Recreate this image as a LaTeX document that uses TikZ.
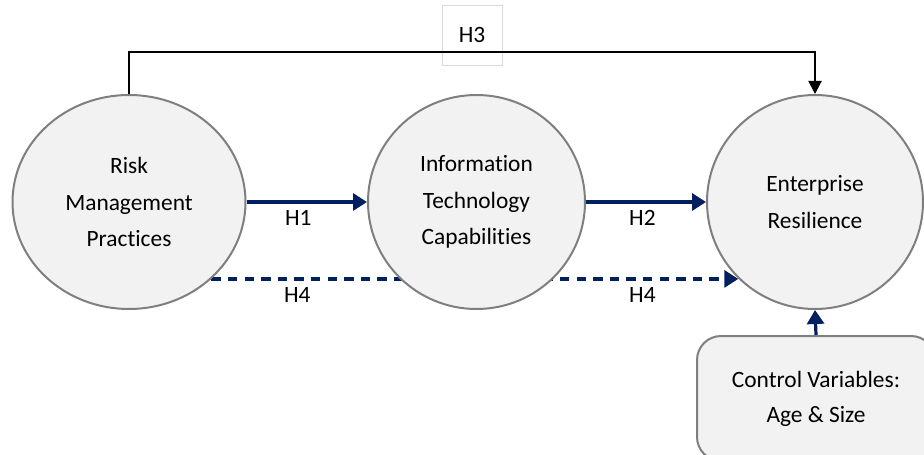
\documentclass[tikz,border=0pt]{standalone}
\usepackage{fontspec}
\setmainfont{Carlito}[Ligatures=NoCommon]
\usetikzlibrary{shapes.geometric,arrows.meta,backgrounds}

\definecolor{navy}{HTML}{002060}
\definecolor{bubble}{HTML}{F2F2F2}
\definecolor{rim}{HTML}{7F7F7F}

\tikzset{
    construct/.style={ellipse,draw=rim,fill=bubble,line width=1pt,inner sep=0pt,
        align=center,font=\fontsize{11.7}{18.2}\selectfont},
    hyp/.style={navy,line width=1.6pt,-{Triangle[length=7pt,width=8.5pt]}},
    hlabel/.style={below,text=black,font=\fontsize{11.7}{14}\selectfont}
}

\begin{document}
\begin{tikzpicture}[x=0.5pt,y=-0.5pt]

% Page frame.
\path[use as bounding box,clip] (0,0) rectangle (924,454);

% Loop for each construct.
\foreach \n/\x/\w/\t in {risk/129/116.5/{Risk\\Management\\Practices},
                         itc/476.5/108.5/{Information\\Technology\\Capabilities},
                         res/815/108/{Enterprise\\Resilience}} {
    \node[construct,minimum width=\w pt,minimum height=107pt] (\n) at (\x,202) {\t};
}

% Control variables box, cut by the frame.
\node[draw=rim,fill=bubble,line width=1pt,rounded corners=12pt,
      minimum width=119pt,minimum height=62.5pt,align=center,
      font=\fontsize{11.7}{17.5}\selectfont] (ctrl) at (816,398.5)
      {Control Variables:\\Age \& Size};

% H3 text box.
\node[draw=gray!30,line width=0.4pt,minimum width=30pt,minimum height=30pt,
      font=\fontsize{11.7}{14}\selectfont] (h3) at (472,35) {H3};

% Direct paths H1 and H2.
\draw[hyp] (risk.east) -- node[hlabel,pos=0.43] {H1} (itc.west);
\draw[hyp] (itc.east) -- node[hlabel,pos=0.47] {H2} (res.west);

% Mediated path H4, behind the middle construct.
\begin{pgfonlayer}{background}
\draw[hyp,dash pattern=on 4.7pt off 3.6pt]
    (risk.-43) -- node[hlabel,pos=0.163] {H4} node[hlabel,pos=0.818] {H4}
    (res.225 |- risk.-43);
\end{pgfonlayer}

% Path H3 over the top.
\draw[black,line width=1pt,-{Triangle[length=6.5pt,width=6.5pt]}]
    (risk.north) -- ++(0,-42) -| (res.north);

% Control variables to resilience.
\draw[hyp] (ctrl.north) -- (res.south);
\end{tikzpicture}
\end{document}
